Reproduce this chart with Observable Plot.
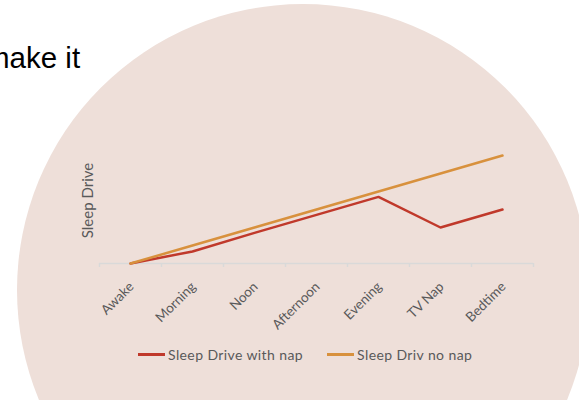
<!DOCTYPE html>
<html>
<head>
<meta charset="utf-8">
<script src="https://cdn.jsdelivr.net/npm/d3@7"></script>
<script src="https://cdn.jsdelivr.net/npm/@observablehq/plot@0.6"></script>
<style>
  html, body { margin: 0; padding: 0; background: #ffffff; }
  #stage { position: relative; width: 579px; height: 400px; overflow: hidden; background: #ffffff; }
  #circle { position: absolute; left: 17px; top: 4px; width: 572px; height: 572px; border-radius: 50%; background: #EEDFD9; }
  #heading { position: absolute; left: -15px; top: 43px; font-family: "Liberation Sans", Arial, sans-serif; font-size: 29.5px; color: #000; white-space: nowrap; line-height: 1; }
  #chart { position: absolute; left: 0; top: 0; }
  #legend { position: absolute; left: 138px; top: 346px; display: flex; align-items: center; font-family: Lato, sans-serif; font-size: 14px; letter-spacing: 0.4px; color: #595959; white-space: nowrap; }
  .item { display: flex; align-items: center; margin-right: 24px; }
  .sw { width: 27px; height: 3px; margin-right: 3px; }
</style>
</head>
<body>
<div id="stage">
  <div id="circle"></div>
  <div id="heading">make it</div>
  <div id="chart"></div>
  <div id="legend"></div>
</div>
<script>
const categories = ["Awake", "Morning", "Noon", "Afternoon", "Evening", "TV Nap", "Bedtime"];
const withNap = [0, 0.67, 1.7, 2.7, 3.7, 2.0, 3.0];
const noNap = [0, 1, 2, 3, 4, 5, 6];
const seriesNames = ["Sleep Drive with nap", "Sleep Driv no nap"];
const seriesColors = ["#C0392B", "#D8913D"];
const yTitle = "Sleep Drive";

const idx = categories.map((_, i) => i);
const boundaries = d3.range(-0.5, categories.length, 1);
const rowsWith = idx.map(i => ({i, v: withNap[i]}));
const rowsNo = idx.map(i => ({i, v: noNap[i]}));

const chart = Plot.plot({
  width: 579,
  height: 340,
  marginLeft: 99,
  marginRight: 46,
  marginTop: 155,
  marginBottom: 77,
  style: {background: "transparent", fontFamily: "Lato, sans-serif"},
  x: {domain: [-0.5, categories.length - 0.5], axis: null},
  y: {domain: [0, 6], axis: null},
  marks: [
    Plot.ruleY([0], {stroke: "#D9D9D9", strokeWidth: 1.5}),
    Plot.axisX({ticks: boundaries, tickSize: 4, tickFormat: () => "", label: null, stroke: "#D9D9D9", strokeWidth: 1.5}),
    Plot.text(idx, {x: d => d, y: 0, text: d => categories[d], rotate: -45, textAnchor: "end", dx: 1, dy: 21, fontSize: 13.5, fill: "#595959", style: "letter-spacing:0.3px"}),
    Plot.text([yTitle], {frameAnchor: "left", textAnchor: "middle", rotate: -90, dx: -11, dy: -9, fontSize: 15, fill: "#595959", text: d => d, style: "letter-spacing:1px"}),
    Plot.line(rowsWith, {x: "i", y: "v", stroke: seriesColors[0], strokeWidth: 2.5}),
    Plot.line(rowsNo, {x: "i", y: "v", stroke: seriesColors[1], strokeWidth: 2.5})
  ]
});
document.getElementById("chart").appendChild(chart);

const legend = document.getElementById("legend");
seriesNames.forEach((n, k) => {
  const it = document.createElement("div");
  it.className = "item";
  const sw = document.createElement("span");
  sw.className = "sw";
  sw.style.background = seriesColors[k];
  const t = document.createElement("span");
  t.textContent = n;
  it.appendChild(sw); it.appendChild(t);
  legend.appendChild(it);
});
</script>
</body>
</html>
